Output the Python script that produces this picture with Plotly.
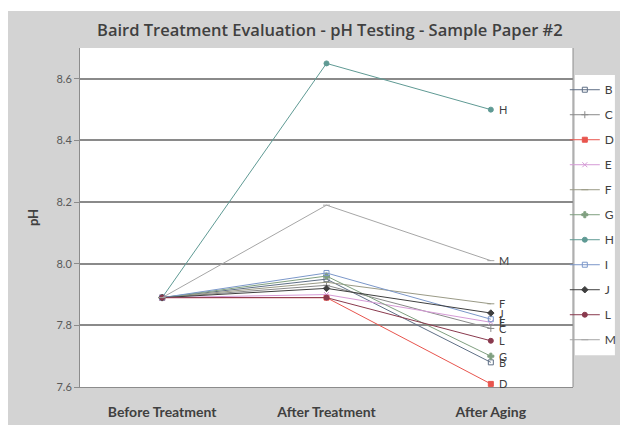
import plotly.graph_objects as go

stages = ["Before Treatment", "After Treatment", "After Aging"]
samples = ["B", "C", "D", "E", "F", "G", "H", "I", "J", "L", "M"]

ph_before = [7.89, 7.89, 7.89, 7.89, 7.89, 7.89, 7.89, 7.89, 7.89, 7.89, 7.89]
ph_after_treatment = [7.95, 7.93, 7.89, 7.90, 7.94, 7.96, 8.65, 7.97, 7.92, 7.89, 8.19]
ph_after_aging = [7.68, 7.79, 7.61, 7.81, 7.87, 7.70, 8.50, 7.82, 7.84, 7.75, 8.01]

line_colors = ["#5f6f86", "#8a8a8a", "#e8554e", "#d59ad6", "#9a9a86", "#7f9f7f",
               "#5f9a94", "#7b97c9", "#3f3f3f", "#8a3a4e", "#a6a6a6"]
marker_symbols = ["square-open", "cross-thin-open", "square", "x-thin-open", "line-ew-open",
                  "cross", "circle", "square-open", "diamond", "circle", "line-ew-open"]

tick_vals = [7.6, 7.8, 8.0, 8.2, 8.4, 8.6]

fig = go.Figure()

for i, name in enumerate(samples):
    ys = [ph_before[i], ph_after_treatment[i], ph_after_aging[i]]
    fig.add_trace(go.Scatter(
        x=stages, y=ys, name=name, mode="lines+markers",
        legendgroup=name,
        line=dict(color=line_colors[i], width=1),
        marker=dict(symbol=marker_symbols[i], size=5, color=line_colors[i],
                    line=dict(color=line_colors[i], width=1)),
    ))
    fig.add_annotation(
        x=stages[-1], y=ph_after_aging[i], text=name, showarrow=False,
        xanchor="left", xshift=6, font=dict(size=11, color="#404040"),
    )

fig.update_layout(
    width=620, height=425,
    margin=dict(l=80, r=47, t=48, b=38, autoexpand=False),
    paper_bgcolor="#d3d3d3",
    plot_bgcolor="#ffffff",
    font=dict(family="Lato, 'Open Sans', sans-serif", color="#404040"),
    title=dict(text="Baird Treatment Evaluation - pH Testing - Sample Paper #2",
               x=0.532, xanchor="center", y=0.93, yanchor="middle",
               font=dict(family="'Open Sans', sans-serif", size=16.5, weight=600,
                         color="#404040")),
    showlegend=True,
    legend=dict(xref="container", yref="container", x=0.911, xanchor="left",
                y=0.823, yanchor="top", maxheight=330,
                bgcolor="rgba(0,0,0,0)", borderwidth=0, itemwidth=30,
                tracegroupgap=6, font=dict(size=12, color="#404040")),
    xaxis=dict(type="category", showgrid=False, showline=True, linecolor="#8c8c8c",
               linewidth=1, ticks="", tickvals=stages, automargin=False,
               ticktext=[f"<b>{s}</b>" for s in stages],
               ticklabelstandoff=12,
               tickfont=dict(size=14, color="#404040"),
               range=[-0.5, 2.5]),
    yaxis=dict(range=[7.6, 8.7], tickvals=tick_vals, ticktext=[f"{v:.1f}" for v in tick_vals],
               automargin=False,
               showgrid=True, gridcolor="#8a8a8a", gridwidth=1.5,
               showline=True, linecolor="#8c8c8c", linewidth=1,
               ticks="outside", ticklen=5, tickcolor="#8c8c8c",
               tickfont=dict(size=11, color="#595959"),
               title=dict(text="<b>pH</b>", font=dict(size=13, color="#404040"), standoff=14)),
    shapes=[
        # white frame strips along the top and left edges of the page
        dict(type="rect", xref="paper", yref="paper", x0=-0.3, x1=1.3,
             y0=1.0 + 37 / 339, y1=1.3, fillcolor="#ffffff",
             line=dict(width=0), layer="above"),
        dict(type="rect", xref="paper", yref="paper", x0=-0.3, x1=-72 / 493,
             y0=-0.3, y1=1.3, fillcolor="#ffffff",
             line=dict(width=0), layer="above"),
        # white legend panel
        dict(type="rect", xref="paper", yref="paper", x0=1.004, x1=1.085,
             y0=0.094, y1=0.920, fillcolor="#ffffff",
             line=dict(width=0), layer="above"),
        dict(type="line", xref="paper", yref="paper", x0=1, x1=1, y0=0, y1=1,
             line=dict(color="#8c8c8c", width=1)),
    ],
)

fig.write_html("out.html")
